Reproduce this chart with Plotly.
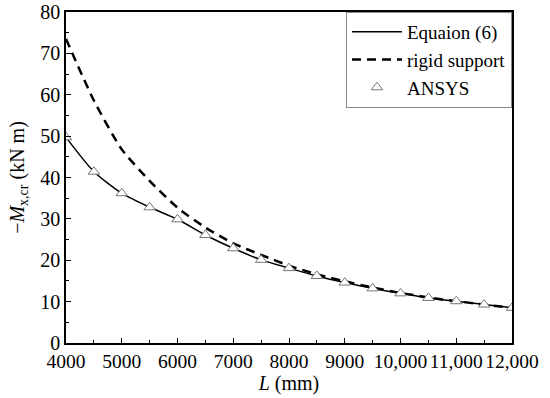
import plotly.graph_objects as go

L_mm = [4000, 4500, 5000, 5500, 6000, 6500, 7000, 7500, 8000,
        8500, 9000, 9500, 10000, 10500, 11000, 11500, 12000]
equation6 = [49.7, 41.4, 36.2, 32.8, 29.9, 26.1, 22.9, 20.1, 18.1,
             16.2, 14.6, 13.2, 12.0, 10.9, 10.1, 9.3, 8.5]
rigid_support = [73.5, 58.6, 46.8, 39.2, 32.7, 27.9, 24.1, 21.3, 18.7,
                 16.6, 14.9, 13.4, 12.1, 11.0, 10.1, 9.3, 8.5]
ansys = [49.7, 41.4, 36.2, 32.8, 29.9, 26.1, 22.9, 20.1, 18.1,
         16.2, 14.6, 13.2, 12.0, 10.9, 10.1, 9.3, 8.5]

x_tickvals = [4000, 5000, 6000, 7000, 8000, 9000, 10000, 11000, 12000]
x_ticktext = ["4000", "5000", "6000", "7000", "8000", "9000",
              "10,000", "11,000", "12,000"]
y_tickvals = [0, 10, 20, 30, 40, 50, 60, 70, 80]

FONT = "Liberation Serif"

fig = go.Figure()
fig.add_trace(go.Scatter(
    x=L_mm, y=equation6, mode="lines", name="Equaion (6)",
    line=dict(color="black", width=1.5, shape="spline", smoothing=0.6)))
fig.add_trace(go.Scatter(
    x=L_mm, y=rigid_support, mode="lines", name="rigid support",
    line=dict(color="black", width=2.5, dash="9px,6px", shape="spline", smoothing=0.6)))
fig.add_trace(go.Scatter(
    x=L_mm, y=ansys, mode="markers", name="ANSYS",
    marker=dict(symbol="triangle-up", size=10, color="white",
                line=dict(color="#777777", width=1))))

axis_common = dict(
    showgrid=False, zeroline=False, showline=True, linecolor="black",
    linewidth=1.5, mirror=True, ticks="inside", ticklen=5, tickwidth=1.2,
    tickcolor="black", tickangle=0,
    automargin=False,
)

fig.update_xaxes(
    range=[4000, 12000], tickvals=x_tickvals, ticktext=x_ticktext,
    tickfont=dict(family=FONT, size=19.5, color="black"),
    minor=dict(ticks="inside", ticklen=3, tickwidth=1, tickcolor="black",
               tickvals=[4500, 5500, 6500, 7500, 8500, 9500, 10500, 11500]),
    title=dict(text="<i>L</i> (mm)", font=dict(family=FONT, size=20, color="black"),
               standoff=3),
    **axis_common)
fig.update_yaxes(
    range=[0, 80], tickvals=y_tickvals,
    tickfont=dict(family=FONT, size=20, color="black"),
    minor=dict(ticks="inside", ticklen=3, tickwidth=1, tickcolor="black",
               tickvals=[5, 15, 25, 35, 45, 55, 65, 75]),
    title=dict(text="\u2212<i>M</i><sub>x,cr</sub> (kN m)",
               font=dict(family=FONT, size=20, color="black"), standoff=10),
    **axis_common)

fig.update_layout(
    width=550, height=398,
    margin=dict(l=66, r=38, t=12, b=55),
    paper_bgcolor="white", plot_bgcolor="white",
    font=dict(family=FONT, color="black"),
    legend=dict(x=1, y=1, xanchor="right", yanchor="top",
                bgcolor="white", bordercolor="#888888", borderwidth=1,
                font=dict(family=FONT, size=19, color="black"),
                tracegroupgap=0, itemwidth=50),
    showlegend=True,
)

fig.write_html("out.html", config={"displayModeBar": False},
               post_script="document.body.style.margin='0px';")
